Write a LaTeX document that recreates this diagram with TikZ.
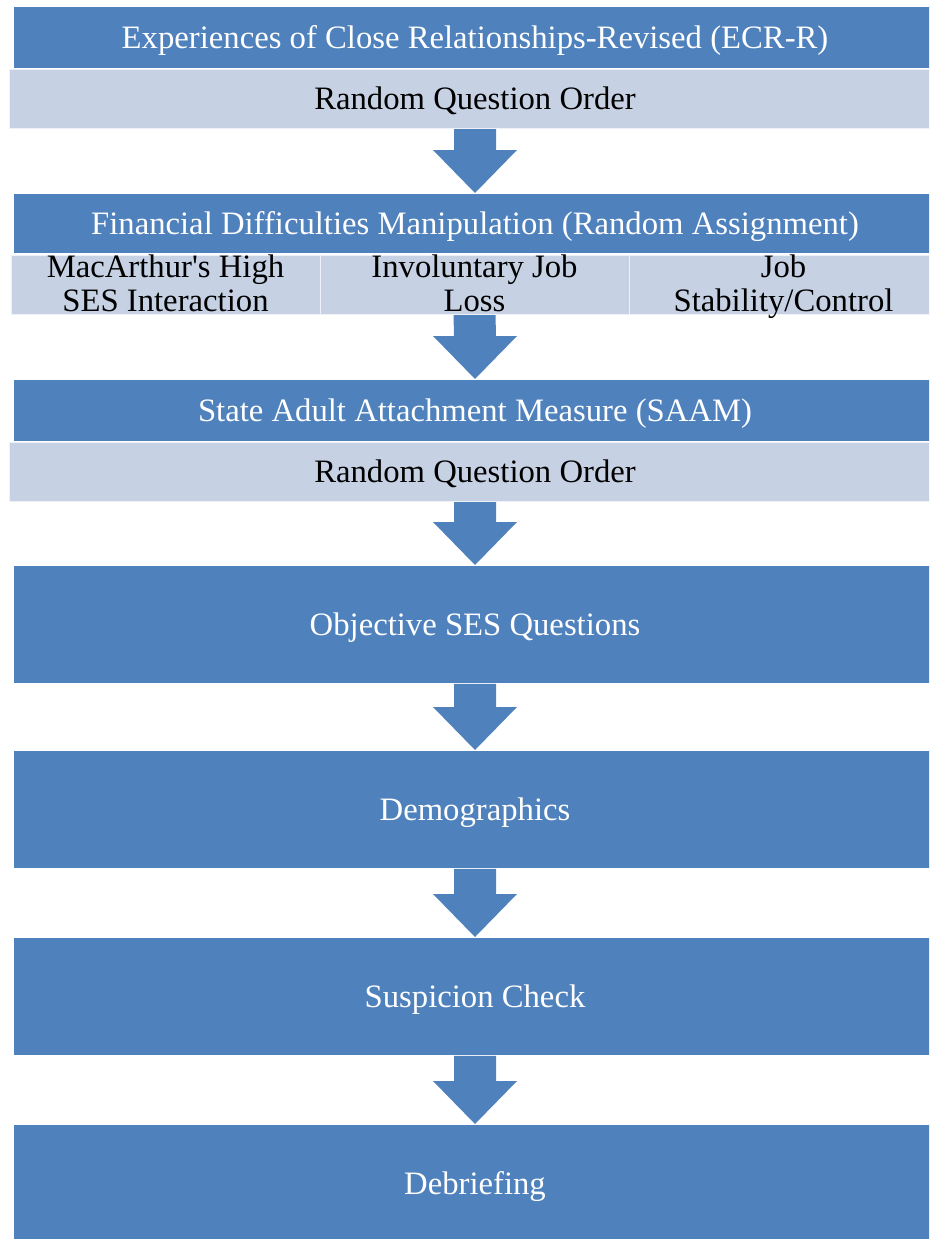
\documentclass[tikz,border=0pt]{standalone}
\usepackage{fontspec}
\setmainfont{Liberation Serif}
\usetikzlibrary{calc}
\definecolor{stepblue}{RGB}{79,129,189}
\definecolor{steplight}{RGB}{198,209,228}
% block arrow from one box down to the next
\newcommand{\flowarrow}[2]{%
    \fill[stepblue] ($(#1.south)+(-21,0)$) -- ($(#1.south)+(21,0)$)
        -- ($(#2.north)+(21,-43)$) -- ($(#2.north)+(42,-43)$) -- (#2.north)
        -- ($(#2.north)+(-42,-43)$) -- ($(#2.north)+(-21,-43)$) -- cycle;}
\begin{document}
\begin{tikzpicture}[x=1pt,y=-1pt,
        every node/.style={font=\fontsize{32.7}{33}\selectfont,inner sep=0pt,anchor=north},
        stepbox/.style={rectangle,fill=stepblue,draw=white,line width=0.8pt,text=white,minimum width=924pt,text height=21.6pt,text depth=0pt},
        notebox/.style={rectangle,fill=steplight,draw=white!70!steplight,line width=1pt,text=black,minimum width=932pt,minimum height=59pt,text height=21.6pt,text depth=0pt},
        subbox/.style={rectangle,fill=steplight,draw=white!70!steplight,line width=1pt,minimum width=309pt,minimum height=59pt},
        subtext/.style={anchor=center,align=center,text=black,font=\fontsize{32.7}{34}\selectfont,yshift=-2.5pt}]
    \clip (0,0) rectangle (929,1239);
    \node[stepbox,minimum height=62pt] (ecr) at (475,6) {Experiences of Close Relationships-Revised (ECR-R)};
    \node[notebox] (ecrorder) at (475,69) {Random Question Order};
    \node[stepbox,minimum height=60pt] (finance) at (475,193) {Financial Difficulties Manipulation (Random Assignment)};
    \node[subbox,label={[subtext]center:\strut MacArthur\textquotesingle s High\\SES Interaction\strut}] (highses) at (165.5,255) {};
    \node[subbox,label={[subtext]center:\strut Involuntary Job\\Loss\strut}] (jobloss) at (474.5,255) {};
    \node[subbox,label={[subtext]center:\strut Job\\Stability/Control\strut}] (jobstab) at (783.5,255) {};
    \node[stepbox,minimum height=62pt] (saam) at (475,379) {State Adult Attachment Measure (SAAM)};
    \node[notebox] (saamorder) at (475,442) {Random Question Order};
    \node[stepbox,minimum height=118pt] (objses) at (475,565) {Objective SES Questions};
    \node[stepbox,minimum height=118pt] (demo) at (475,750) {Demographics};
    \node[stepbox,minimum height=118pt] (suspicion) at (475,937) {Suspicion Check};
    \node[stepbox,minimum height=118pt] (debrief) at (475,1124) {Debriefing};
    \flowarrow{ecrorder}{finance}
    \flowarrow{jobloss}{saam}
    \flowarrow{saamorder}{objses}
    \flowarrow{objses}{demo}
    \flowarrow{demo}{suspicion}
    \flowarrow{suspicion}{debrief}
\end{tikzpicture}
\end{document}
